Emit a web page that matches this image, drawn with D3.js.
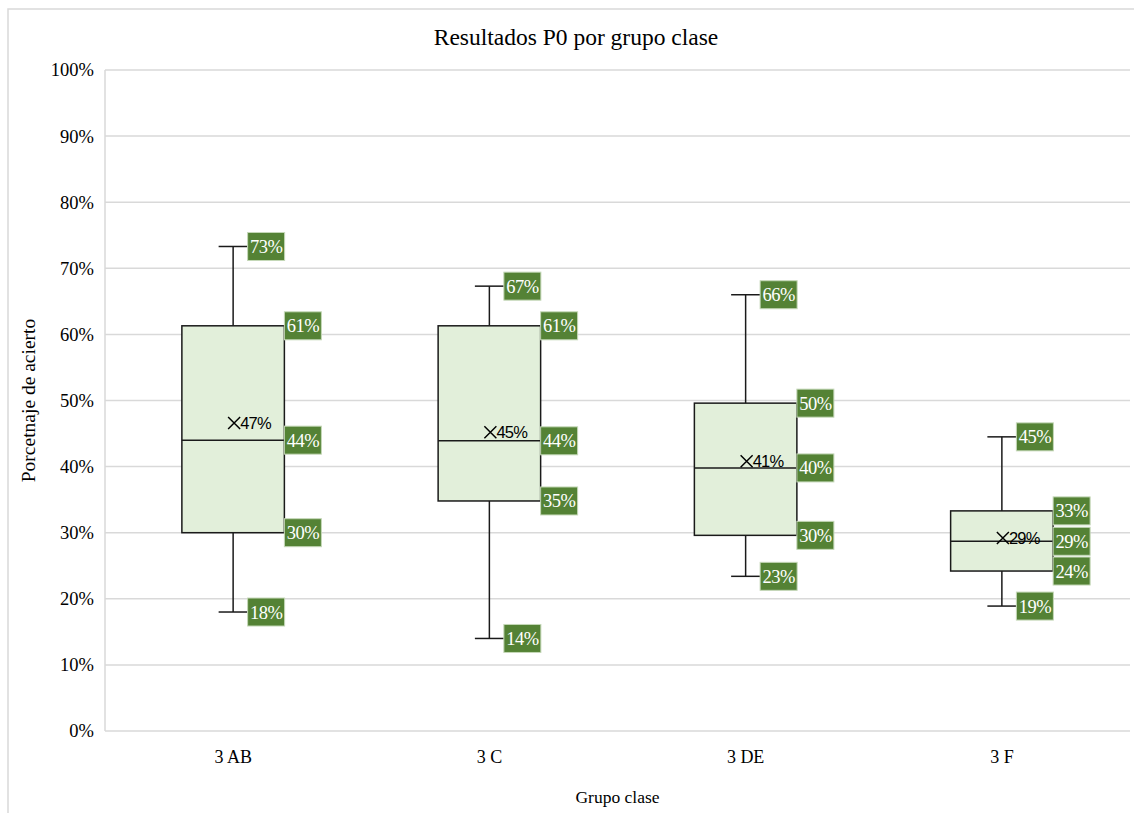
<!DOCTYPE html>
<html>
<head>
<meta charset="utf-8">
<script src="https://cdn.jsdelivr.net/npm/d3@7"></script>
<style>
  body { margin: 0; background: #fff; }
  svg { display: block; }
</style>
</head>
<body>
<svg width="1134" height="813"></svg>
<script>
// chart data
const groups = ["3 AB", "3 C", "3 DE", "3 F"];
const minVals = [0.18, 0.14, 0.234, 0.189];
const q1Vals = [0.30, 0.348, 0.296, 0.242];
const medianVals = [0.44, 0.439, 0.398, 0.287];
const q3Vals = [0.613, 0.613, 0.496, 0.333];
const maxVals = [0.733, 0.673, 0.66, 0.445];
const meanVals = [0.466, 0.452, 0.408, 0.292];
const yTicks = [0, 0.1, 0.2, 0.3, 0.4, 0.5, 0.6, 0.7, 0.8, 0.9, 1];

const data = groups.map((g, i) => ({
  g,
  min: minVals[i],
  q1: q1Vals[i],
  med: medianVals[i],
  q3: q3Vals[i],
  max: maxVals[i],
  mean: meanVals[i],
}));

const serif = "'Liberation Serif', 'Times New Roman', serif";
const sans = "'Liberation Sans', Arial, sans-serif";
const grid = "#d9d9d9";
const green = "#548235";

const svg = d3.select("svg");

// outer chart border (runs past the window on right/bottom)
svg.append("rect")
  .attr("x", 8).attr("y", 9)
  .attr("width", 1300).attr("height", 1000)
  .attr("fill", "none").attr("stroke", grid).attr("stroke-width", 1.5);

const plotLeft = 105, plotRight = 1130, plotTop = 70, plotBottom = 731;

const x = d3.scaleBand().domain(groups).range([plotLeft, plotRight]);
const y = d3.scaleLinear().domain([0, 1]).range([plotBottom, plotTop]);

// gridlines
svg.append("g")
  .selectAll("line")
  .data(yTicks)
  .join("line")
  .attr("x1", plotLeft).attr("x2", plotRight)
  .attr("y1", (d) => y(d)).attr("y2", (d) => y(d))
  .attr("stroke", grid).attr("stroke-width", 1.5);

svg.append("line")
  .attr("x1", plotLeft).attr("x2", plotLeft)
  .attr("y1", plotTop).attr("y2", plotBottom)
  .attr("stroke", grid).attr("stroke-width", 1.5);

// y axis labels
const yAxis = svg.append("g")
  .attr("transform", `translate(${plotLeft},0)`)
  .call(d3.axisLeft(y).tickValues(yTicks).tickFormat(d3.format(".0%")).tickSize(0).tickPadding(11));
yAxis.select(".domain").remove();
yAxis.selectAll("text")
  .attr("font-family", serif).attr("font-size", 18.5).attr("fill", "#000");

// x axis labels
const xAxis = svg.append("g")
  .attr("transform", `translate(0,${plotBottom})`)
  .call(d3.axisBottom(x).tickSize(0).tickPadding(19));
xAxis.select(".domain").remove();
xAxis.selectAll("text")
  .attr("font-family", serif).attr("font-size", 18).attr("fill", "#000");

// titles
svg.append("text")
  .attr("x", 576).attr("y", 45)
  .attr("text-anchor", "middle")
  .attr("font-family", serif).attr("font-size", 23.5)
  .text("Resultados P0 por grupo clase");

svg.append("text")
  .attr("x", (plotLeft + plotRight) / 2).attr("y", 803)
  .attr("text-anchor", "middle")
  .attr("font-family", serif).attr("font-size", 17.5)
  .text("Grupo clase");

svg.append("text")
  .attr("transform", `translate(35,${(plotTop + plotBottom) / 2}) rotate(-90)`)
  .attr("text-anchor", "middle")
  .attr("font-family", serif).attr("font-size", 19.5)
  .text("Porcetnaje de acierto");

const boxW = x.bandwidth() * 0.4;
const capW = 29;
const stroke = "#1a1a1a";

const boxes = svg.append("g")
  .selectAll("g")
  .data(data)
  .join("g")
  .attr("transform", (d) => `translate(${x(d.g) + x.bandwidth() / 2},0)`);

// whiskers
boxes.append("line")
  .attr("x1", 0).attr("x2", 0)
  .attr("y1", (d) => y(d.max)).attr("y2", (d) => y(d.q3))
  .attr("stroke", stroke).attr("stroke-width", 1.5);
boxes.append("line")
  .attr("x1", 0).attr("x2", 0)
  .attr("y1", (d) => y(d.q1)).attr("y2", (d) => y(d.min))
  .attr("stroke", stroke).attr("stroke-width", 1.5);
boxes.append("line")
  .attr("x1", -capW / 2).attr("x2", capW / 2)
  .attr("y1", (d) => y(d.max)).attr("y2", (d) => y(d.max))
  .attr("stroke", stroke).attr("stroke-width", 1.5);
boxes.append("line")
  .attr("x1", -capW / 2).attr("x2", capW / 2)
  .attr("y1", (d) => y(d.min)).attr("y2", (d) => y(d.min))
  .attr("stroke", stroke).attr("stroke-width", 1.5);

// box
boxes.append("rect")
  .attr("x", -boxW / 2).attr("width", boxW)
  .attr("y", (d) => y(d.q3))
  .attr("height", (d) => y(d.q1) - y(d.q3))
  .attr("fill", "#e2efda").attr("stroke", stroke).attr("stroke-width", 1.5);

boxes.append("line")
  .attr("x1", -boxW / 2).attr("x2", boxW / 2)
  .attr("y1", (d) => y(d.med)).attr("y2", (d) => y(d.med))
  .attr("stroke", stroke).attr("stroke-width", 1.5);

// mean marker
boxes.append("path")
  .attr("d", (d) => {
    const cy = y(d.mean), s = 6;
    return `M${-s + 1},${cy - s}L${s + 1},${cy + s}M${-s + 1},${cy + s}L${s + 1},${cy - s}`;
  })
  .attr("stroke", "#000").attr("stroke-width", 1.5);
boxes.append("text")
  .attr("x", 7).attr("y", (d) => y(d.mean))
  .attr("dy", "0.36em")
  .attr("font-family", sans).attr("font-size", 16.5)
  .attr("letter-spacing", -0.8)
  .text((d) => d3.format(".0%")(d.mean));

// value labels
const fmt = d3.format(".0%");
function addLabels(key, dx) {
  const lab = boxes.append("g")
    .attr("transform", (d) => `translate(${dx},${y(d[key])})`);
  lab.append("rect")
    .attr("x", 0).attr("y", -14)
    .attr("width", 37).attr("height", 28)
    .attr("fill", green).attr("stroke", "#c5d8b8").attr("stroke-width", 1);
  lab.append("text")
    .attr("x", 18.5).attr("y", 0).attr("dy", "0.35em")
    .attr("text-anchor", "middle")
    .attr("font-family", serif).attr("font-size", 18.5)
    .attr("letter-spacing", -0.5)
    .attr("fill", "#fff")
    .text((d) => fmt(d[key]));
}
addLabels("max", capW / 2);
addLabels("min", capW / 2);
addLabels("q3", boxW / 2);
addLabels("med", boxW / 2);
addLabels("q1", boxW / 2);
</script>
</body>
</html>
